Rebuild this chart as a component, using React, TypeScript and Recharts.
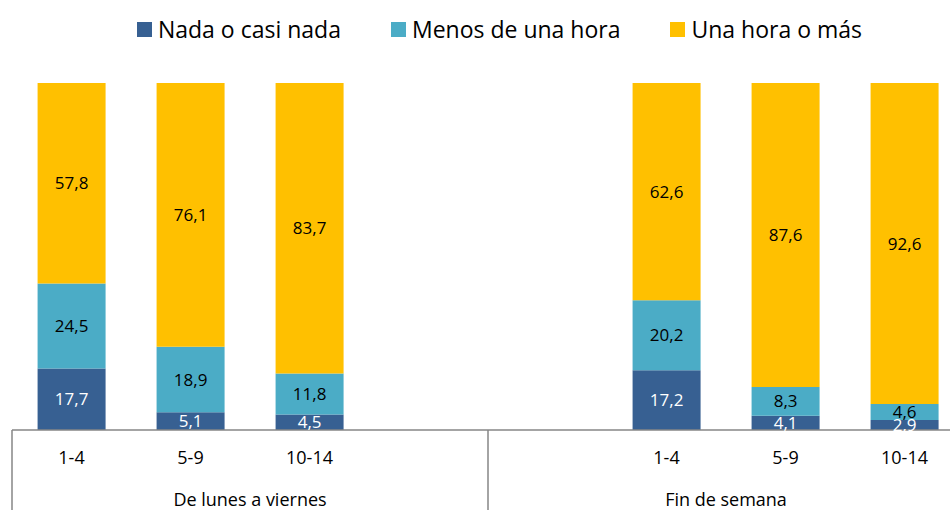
import React from 'react';
import { BarChart, Bar, XAxis, YAxis, Legend, LabelList } from 'recharts';

const groups = ['De lunes a viernes', 'Fin de semana'];
const ageBands = ['1-4', '5-9', '10-14'];

// one inner array per group, one value per age band
const nadaValues = [[17.7, 5.1, 4.5], [17.2, 4.1, 2.9]];
const menosValues = [[24.5, 18.9, 11.8], [20.2, 8.3, 4.6]];
const unaHoraValues = [[57.8, 76.1, 83.7], [62.6, 87.6, 92.6]];

const seriesNames = ['Nada o casi nada', 'Menos de una hora', 'Una hora o más'];
const seriesColors = ['#376092', '#4BACC6', '#FFC000'];

const FONT = "'Open Sans', sans-serif";
const AXIS_GREY = '#868686';

type Row = {
  id: string;
  band: string;
  group: number;
  nada: number | null;
  menos: number | null;
  unaHora: number | null;
};

const rows: Row[] = [];
groups.forEach((_, gi) => {
  const bandRows: Row[] = ageBands.map((b, bi) => ({
    id: `${gi}-${b}`,
    band: b,
    group: gi,
    nada: nadaValues[gi][bi],
    menos: menosValues[gi][bi],
    unaHora: unaHoraValues[gi][bi],
  }));
  // Excel-style blank category that pads each group to four slots
  const blank: Row = { id: `${gi}-blank`, band: '', group: gi, nada: null, menos: null, unaHora: null };
  if (gi === 0) rows.push(...bandRows, blank);
  else rows.push(blank, ...bandRows);
});

const fmt = (v: any) => (v == null ? '' : Number(v).toFixed(1).replace('.', ','));

const AxisTick = (props: any) => {
  const { x, y, payload } = props;
  const idx = props.index ?? payload.index;
  const half = payload.offset ?? 0;
  const row = rows[idx];
  if (!row) return null;
  const pos = rows.filter((r) => r.group === row.group).indexOf(row);
  return (
    <g>
      {row.band && (
        <text x={x} y={y + 34} textAnchor="middle" fontSize={18} fontFamily={FONT} fill="#000">
          {row.band}
        </text>
      )}
      {pos === 0 && (
        <line x1={x - half} x2={x - half} y1={y} y2={y + 80} stroke={AXIS_GREY} strokeWidth={1.5} />
      )}
      {pos === 1 && (
        <text x={x + half} y={y + 76} textAnchor="middle" fontSize={18} fontFamily={FONT} fill="#000">
          {groups[row.group]}
        </text>
      )}
    </g>
  );
};

const LegendContent = () => (
  <div
    style={{
      display: 'flex',
      justifyContent: 'center',
      paddingLeft: 49,
      fontFamily: FONT,
      fontSize: 23,
      color: '#000',
    }}
  >
    {seriesNames.map((n, i) => (
      <div key={n} style={{ display: 'flex', alignItems: 'center', marginRight: i < 2 ? 50 : 0 }}>
        <span style={{ width: 15, height: 15, background: seriesColors[i], marginRight: 6, display: 'inline-block' }} />
        {n}
      </div>
    ))}
  </div>
);

const App: React.FC = () => {
  return (
    <div
      style={{
        position: 'absolute',
        left: 0,
        top: 0,
        width: 950,
        height: 510,
        overflow: 'hidden',
        background: '#fff',
        fontFamily: FONT,
      }}
    >
      <BarChart
        width={980}
        height={510}
        data={rows}
        margin={{ top: 83, right: 16, bottom: 0, left: 12 }}
        barCategoryGap="21.5%"
      >
        <XAxis
          dataKey="id"
          interval={0}
          height={80}
          tickLine={false}
          tickSize={0}
          tickMargin={0}
          axisLine={{ stroke: AXIS_GREY, strokeWidth: 1.5 }}
          tick={<AxisTick />}
        />
        <YAxis hide type="number" domain={[0, 100]} allowDataOverflow />
        <Legend
          verticalAlign="middle"
          align="center"
          layout="horizontal"
          wrapperStyle={{ top: 13, left: 0, width: 950 }}
          content={<LegendContent />}
        />
        <Bar dataKey="nada" stackId="a" fill={seriesColors[0]} isAnimationActive={false}>
          <LabelList dataKey="nada" position="center" fill="#fff" fontSize={17} fontFamily={FONT} formatter={fmt} />
        </Bar>
        <Bar dataKey="menos" stackId="a" fill={seriesColors[1]} isAnimationActive={false}>
          <LabelList dataKey="menos" position="center" fill="#000" fontSize={17} fontFamily={FONT} formatter={fmt} />
        </Bar>
        <Bar dataKey="unaHora" stackId="a" fill={seriesColors[2]} isAnimationActive={false}>
          <LabelList dataKey="unaHora" position="center" fill="#000" fontSize={17} fontFamily={FONT} formatter={fmt} />
        </Bar>
      </BarChart>
    </div>
  );
};

export default App;
